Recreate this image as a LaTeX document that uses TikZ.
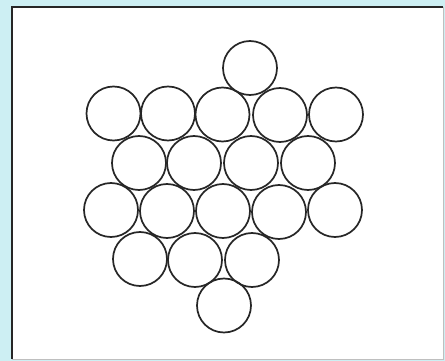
\documentclass[tikz,border=0pt]{standalone}
\begin{document}
\begin{tikzpicture}[x=1pt,y=-1pt,
  ball/.style={draw=black!85,line width=1.7pt},
  frameline/.style={draw=black!85,line width=1.6pt}]
\definecolor{bgblue}{HTML}{CDEFF3}
\fill[bgblue] (0,0) rectangle (445,361);
\useasboundingbox (0,0) rectangle (445,361);
\fill[white] (12,7) rectangle (443,359);
\draw[frameline] (12,359) -- (12,7) -- (443,7);
\draw[black!25,line width=0.8pt] (443,7) -- (443,359) -- (12,359);
\def\rr{27}
% top
\draw[ball] (250,68) circle (\rr);
% row 1
\draw[ball] (113.5,113.5) circle (\rr);
\draw[ball] (168,113.5) circle (\rr);
\draw[ball] (222.5,114.5) circle (\rr);
\draw[ball] (280,115) circle (\rr);
\draw[ball] (336,114.5) circle (\rr);
% row 2
\draw[ball] (139,163) circle (\rr);
\draw[ball] (194,163) circle (\rr);
\draw[ball] (251,163) circle (\rr);
\draw[ball] (308,163) circle (\rr);
% row 3
\draw[ball] (111,210) circle (\rr);
\draw[ball] (167,211) circle (\rr);
\draw[ball] (223,211) circle (\rr);
\draw[ball] (279,212) circle (\rr);
\draw[ball] (335,210) circle (\rr);
% row 4
\draw[ball] (140,259) circle (\rr);
\draw[ball] (195,260) circle (\rr);
\draw[ball] (252,260) circle (\rr);
% bottom
\draw[ball] (224,305.5) circle (\rr);
\end{tikzpicture}
\end{document}
